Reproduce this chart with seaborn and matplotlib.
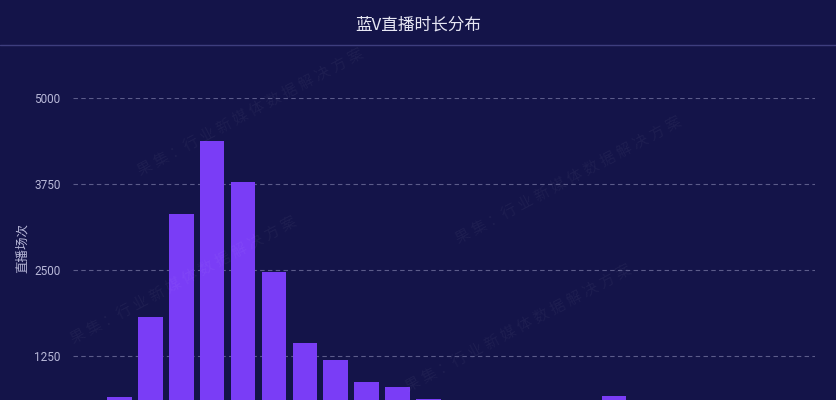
import matplotlib
matplotlib.use('Agg')
import matplotlib.pyplot as plt
import seaborn as sns
import pandas as pd
from matplotlib.lines import Line2D

categories = [f"区间{i + 1}" for i in range(24)]
values = [300, 654, 1817, 3314, 4375, 3779, 2471, 1439, 1192, 872, 799, 625,
          450, 380, 320, 280, 250, 669, 200, 180, 150, 130, 120, 100]
yticks = [1250, 2500, 3750, 5000]
ytick_labels = ["1250", "2500", "3750", "5000"]
title = "蓝V直播时长分布"
ylabel = "直播场次"
watermark = "果 集 ：行 业 新 媒 体 数 据 解 决 方 案"

sns.set_theme(style='dark')
plt.rcParams['font.family'] = ['Noto Sans CJK SC', 'DejaVu Sans']

bg = '#141449'
fig = plt.figure(figsize=(8.36, 4.0), dpi=100, facecolor=bg)
ax = fig.add_axes([73 / 836, -42 / 400, 742 / 836, 344 / 400])
ax.set_facecolor(bg)

df = pd.DataFrame({'cat': categories, 'val': values})
sns.barplot(data=df, x='cat', y='val', color='#7a3df6', saturation=1,
            width=0.8, ax=ax, zorder=3, linewidth=0, edgecolor='none')
ax.set_ylim(0, 5000)
ax.set_xlim(-0.5, len(categories) - 0.5)
ax.set_axisbelow(True)
ax.set_yticks(yticks)
ax.set_yticklabels(ytick_labels, family=['Roboto', 'DejaVu Sans'])
ax.tick_params(axis='y', length=0, pad=9, labelsize=8.5, colors='#b8b8d8')
ax.tick_params(axis='x', length=0, labelbottom=False)
ax.yaxis.grid(True, linestyle=(0, (4, 3)), color='#5c5c8a', linewidth=0.8)
ax.xaxis.grid(False)
for s in ax.spines.values():
    s.set_visible(False)
ax.set_xlabel('')
ax.set_ylabel('')

fig.text(418 / 836, 1 - 25 / 400, title, ha='center', va='center',
         fontsize=12, color='#e8e8f4', fontweight='medium')
fig.text(22 / 836, 1 - 248 / 400, ylabel, ha='center', va='center',
         rotation=90, fontsize=9, color='#b8b8d8')
fig.add_artist(Line2D([0, 1], [1 - 45 / 400, 1 - 45 / 400],
                      transform=fig.transFigure, color='#3e3e7e', linewidth=1))

# faint diagonal watermark
for (x, y) in [(0.30, 0.72), (0.22, 0.30), (0.68, 0.55), (0.62, 0.18)]:
    fig.text(x, y, watermark, ha='center', va='center', rotation=28,
             fontsize=11, color='#ffffff', alpha=0.045, zorder=10)

fig.savefig('out.png', dpi=100, facecolor=bg)
